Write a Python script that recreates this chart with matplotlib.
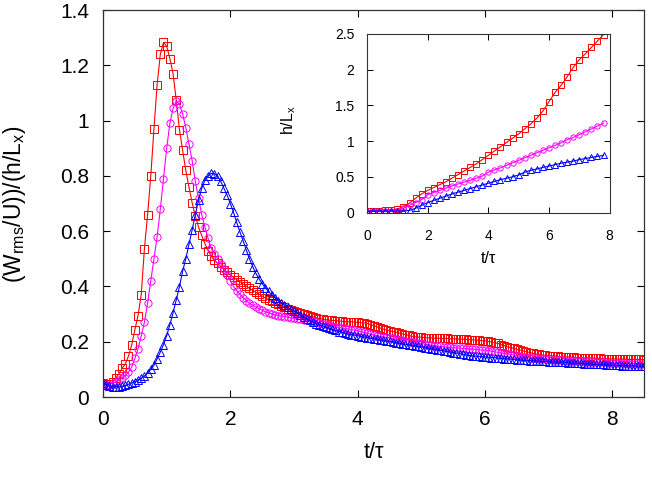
import numpy as np
import matplotlib
matplotlib.use("Agg")
import matplotlib.pyplot as plt

plt.rcParams["font.family"] = ["Liberation Sans", "DejaVu Sans"]
plt.rcParams["mathtext.fontset"] = "custom"
plt.rcParams["mathtext.rm"] = "Liberation Sans"
plt.rcParams["mathtext.it"] = "Liberation Sans:italic"

# ---- datos de la figura principal: paso 0.05 en t/tau, de 0 a 8.5 ----
PASO = 0.05
rojo = [
    0.050, 0.048, 0.047, 0.055, 0.068, 0.085, 0.104, 0.120, 0.148, 0.188,
    0.243, 0.295, 0.370, 0.535, 0.660, 0.800, 0.970, 1.130, 1.240, 1.283,
    1.270, 1.225, 1.170, 1.075, 0.968, 0.895, 0.820, 0.760, 0.703, 0.655,
    0.615, 0.585, 0.555, 0.530, 0.510, 0.495, 0.484, 0.472, 0.461, 0.451,
    0.442, 0.433, 0.425, 0.417, 0.409, 0.401, 0.393, 0.386, 0.379, 0.372,
    0.365, 0.358, 0.352, 0.346, 0.340, 0.335, 0.330, 0.325, 0.320, 0.315,
    0.311, 0.307, 0.303, 0.299, 0.296, 0.293, 0.290, 0.287, 0.284, 0.282,
    0.280, 0.278, 0.277, 0.276, 0.275, 0.274, 0.273, 0.272, 0.272, 0.271,
    0.270, 0.269, 0.268, 0.266, 0.262, 0.258, 0.254, 0.250, 0.246, 0.243,
    0.240, 0.237, 0.235, 0.232, 0.229, 0.226, 0.223, 0.220, 0.218, 0.217,
    0.216, 0.215, 0.214, 0.214, 0.213, 0.213, 0.212, 0.212, 0.212, 0.211,
    0.211, 0.210, 0.210, 0.209, 0.209, 0.208, 0.207, 0.206, 0.205, 0.204,
    0.203, 0.201, 0.199, 0.197, 0.194, 0.190, 0.186, 0.182, 0.179, 0.176,
    0.173, 0.170, 0.167, 0.164, 0.161, 0.158, 0.156, 0.154, 0.152, 0.151,
    0.150, 0.149, 0.148, 0.147, 0.146, 0.145, 0.145, 0.144, 0.144, 0.143,
    0.143, 0.142, 0.142, 0.141, 0.141, 0.140, 0.140, 0.139, 0.139, 0.138,
    0.138, 0.138, 0.137, 0.137, 0.137, 0.136, 0.136, 0.136, 0.136, 0.136,
    0.135,
]
magenta = [
    0.048, 0.043, 0.045, 0.050, 0.055, 0.060, 0.068, 0.078, 0.090, 0.108,
    0.140, 0.175, 0.220, 0.270, 0.340, 0.420, 0.500, 0.580, 0.680, 0.790,
    0.900, 0.990, 1.045, 1.072, 1.060, 1.025, 0.975, 0.915, 0.855, 0.780,
    0.720, 0.660, 0.616, 0.574, 0.538, 0.518, 0.500, 0.482, 0.462, 0.442,
    0.420, 0.400, 0.385, 0.372, 0.360, 0.349, 0.339, 0.332, 0.326, 0.320,
    0.314, 0.309, 0.305, 0.301, 0.297, 0.295, 0.293, 0.291, 0.289, 0.287,
    0.285, 0.283, 0.281, 0.279, 0.277, 0.275, 0.273, 0.271, 0.268, 0.266,
    0.263, 0.260, 0.257, 0.254, 0.252, 0.250, 0.248, 0.246, 0.244, 0.242,
    0.240, 0.237, 0.234, 0.231, 0.228, 0.225, 0.222, 0.220, 0.218, 0.216,
    0.214, 0.212, 0.210, 0.208, 0.206, 0.204, 0.202, 0.200, 0.198, 0.196,
    0.194, 0.192, 0.190, 0.188, 0.186, 0.184, 0.183, 0.182, 0.181, 0.180,
    0.179, 0.178, 0.177, 0.176, 0.175, 0.174, 0.173, 0.172, 0.171, 0.170,
    0.169, 0.168, 0.166, 0.164, 0.162, 0.160, 0.158, 0.156, 0.154, 0.152,
    0.150, 0.148, 0.146, 0.144, 0.142, 0.141, 0.140, 0.139, 0.138, 0.137,
    0.136, 0.135, 0.134, 0.133, 0.133, 0.132, 0.131, 0.131, 0.130, 0.129,
    0.129, 0.128, 0.128, 0.127, 0.127, 0.126, 0.126, 0.125, 0.125, 0.124,
    0.124, 0.123, 0.123, 0.122, 0.122, 0.121, 0.121, 0.121, 0.120, 0.120,
    0.120,
]
azul = [
    0.050, 0.045, 0.040, 0.037, 0.036, 0.037, 0.039, 0.042, 0.046, 0.051,
    0.056, 0.062, 0.068, 0.076, 0.087, 0.100, 0.115, 0.138, 0.163, 0.190,
    0.222, 0.262, 0.305, 0.351, 0.399, 0.455, 0.500, 0.552, 0.605, 0.660,
    0.712, 0.755, 0.785, 0.800, 0.809, 0.808, 0.800, 0.780, 0.755, 0.730,
    0.700, 0.668, 0.632, 0.598, 0.566, 0.532, 0.500, 0.472, 0.448, 0.428,
    0.410, 0.395, 0.382, 0.370, 0.359, 0.349, 0.340, 0.332, 0.325, 0.318,
    0.311, 0.304, 0.297, 0.290, 0.283, 0.277, 0.271, 0.266, 0.261, 0.257,
    0.253, 0.249, 0.245, 0.241, 0.237, 0.234, 0.231, 0.228, 0.226, 0.224,
    0.222, 0.219, 0.217, 0.215, 0.213, 0.211, 0.209, 0.207, 0.205, 0.203,
    0.201, 0.199, 0.197, 0.195, 0.193, 0.191, 0.189, 0.187, 0.185, 0.183,
    0.181, 0.179, 0.177, 0.175, 0.173, 0.171, 0.169, 0.167, 0.165, 0.163,
    0.161, 0.159, 0.157, 0.155, 0.153, 0.151, 0.149, 0.148, 0.147, 0.146,
    0.145, 0.144, 0.143, 0.142, 0.141, 0.140, 0.139, 0.138, 0.137, 0.136,
    0.135, 0.134, 0.133, 0.133, 0.132, 0.131, 0.131, 0.130, 0.129, 0.129,
    0.128, 0.127, 0.127, 0.126, 0.126, 0.125, 0.124, 0.124, 0.123, 0.122,
    0.122, 0.121, 0.121, 0.120, 0.119, 0.119, 0.118, 0.118, 0.117, 0.116,
    0.116, 0.115, 0.115, 0.114, 0.114, 0.113, 0.113, 0.113, 0.112, 0.112,
    0.112,
]

# ---- datos del recuadro (h/L_x): paso 0.2 en t/tau, de 0 a 7.8 ----
PASO_INS = 0.2
h_rojo = [
    0.020, 0.020, 0.025, 0.030, 0.035, 0.050, 0.080, 0.130, 0.200, 0.260,
    0.310, 0.350, 0.390, 0.430, 0.480, 0.530, 0.580, 0.630, 0.680, 0.740,
    0.800, 0.860, 0.920, 0.980, 1.040, 1.100, 1.170, 1.240, 1.320, 1.420,
    1.550, 1.680, 1.780, 1.900, 2.030, 2.140, 2.220, 2.310, 2.400, 2.490,
]
h_magenta = [
    0.010, 0.015, 0.020, 0.020, 0.020, 0.025, 0.060, 0.100, 0.140, 0.180,
    0.250, 0.280, 0.310, 0.340, 0.370, 0.400, 0.425, 0.450, 0.480, 0.510,
    0.565, 0.595, 0.625, 0.660, 0.695, 0.730, 0.765, 0.800, 0.835, 0.870,
    0.905, 0.940, 0.975, 1.020, 1.050, 1.090, 1.130, 1.170, 1.210, 1.250,
]
h_azul = [
    0.020, 0.020, 0.020, 0.020, 0.020, 0.020, 0.020, 0.030, 0.060, 0.100,
    0.140, 0.170, 0.200, 0.230, 0.260, 0.285, 0.310, 0.335, 0.360, 0.385,
    0.410, 0.435, 0.460, 0.480, 0.500, 0.525, 0.565, 0.590, 0.610, 0.630,
    0.650, 0.670, 0.690, 0.705, 0.720, 0.740, 0.755, 0.770, 0.785, 0.800,
]

ESTILOS = [("#ff0000", "s"), ("#ff00ff", "o"), ("#0000ff", "^")]


def main():
    t = np.round(np.arange(len(rojo)) * PASO, 3)
    t_ins = np.round(np.arange(len(h_rojo)) * PASO_INS, 3)

    fig = plt.figure(figsize=(6.52, 4.83), dpi=100)
    ax = fig.add_axes([0.158, 0.178, 0.830, 0.801])

    for serie, (col, mk) in zip([rojo, magenta, azul], ESTILOS):
        ax.plot(t, serie, color=col, lw=0.8, marker=mk, ms=5.2,
                mfc="none", mec=col, mew=0.7)

    ax.set_xlim(0, 8.5)
    ax.set_ylim(0, 1.4)
    ax.set_xticks([0, 2, 4, 6, 8])
    ax.set_yticks([0, 0.2, 0.4, 0.6, 0.8, 1.0, 1.2, 1.4])
    ax.set_yticklabels(["0", "0.2", "0.4", "0.6", "0.8", "1", "1.2", "1.4"])
    ax.tick_params(direction="in", length=5, width=0.8, top=True,
                   right=True, labelsize=15)
    ax.tick_params(axis="x", pad=9)
    ax.tick_params(axis="y", pad=10)
    for s in ax.spines.values():
        s.set_linewidth(0.9)
        s.set_color("#333333")

    fig.text(0.573, 0.064, "t/\u03c4", ha="center", va="center",
             fontsize=15.5)
    fig.text(0.022, 0.578, r"(W$_{\rm rms}$/U))/(h/L$_{\rm x}$)",
             ha="center", va="center", rotation=90, fontsize=16.5)

    # recuadro
    ins = fig.add_axes([0.563, 0.560, 0.372, 0.370])
    for serie, (col, mk) in zip([h_rojo, h_magenta, h_azul], ESTILOS):
        ins.plot(t_ins, serie, color=col, lw=0.8, marker=mk, ms=3.8,
                 mfc="none", mec=col, mew=0.7)
    ins.set_xlim(0, 8)
    ins.set_ylim(0, 2.5)
    ins.set_xticks([0, 2, 4, 6, 8])
    ins.set_yticks([0, 0.5, 1, 1.5, 2, 2.5])
    ins.set_yticklabels(["0", "0.5", "1", "1.5", "2", "2.5"])
    ins.tick_params(direction="in", length=4, width=0.7, top=True,
                    right=True, labelsize=10)
    ins.tick_params(axis="x", pad=12)
    ins.tick_params(axis="y", pad=9)
    for s in ins.spines.values():
        s.set_linewidth(0.8)
        s.set_color("#333333")
    fig.text(0.4425, 0.752, r"h/L$_{\rm x}$", ha="center", va="center",
             rotation=90, fontsize=11.5)
    fig.text(0.749, 0.464, "t/\u03c4", ha="center", va="center",
             fontsize=11.5)

    fig.savefig("out.png", dpi=100)
    plt.close(fig)


if __name__ == "__main__":
    main()
